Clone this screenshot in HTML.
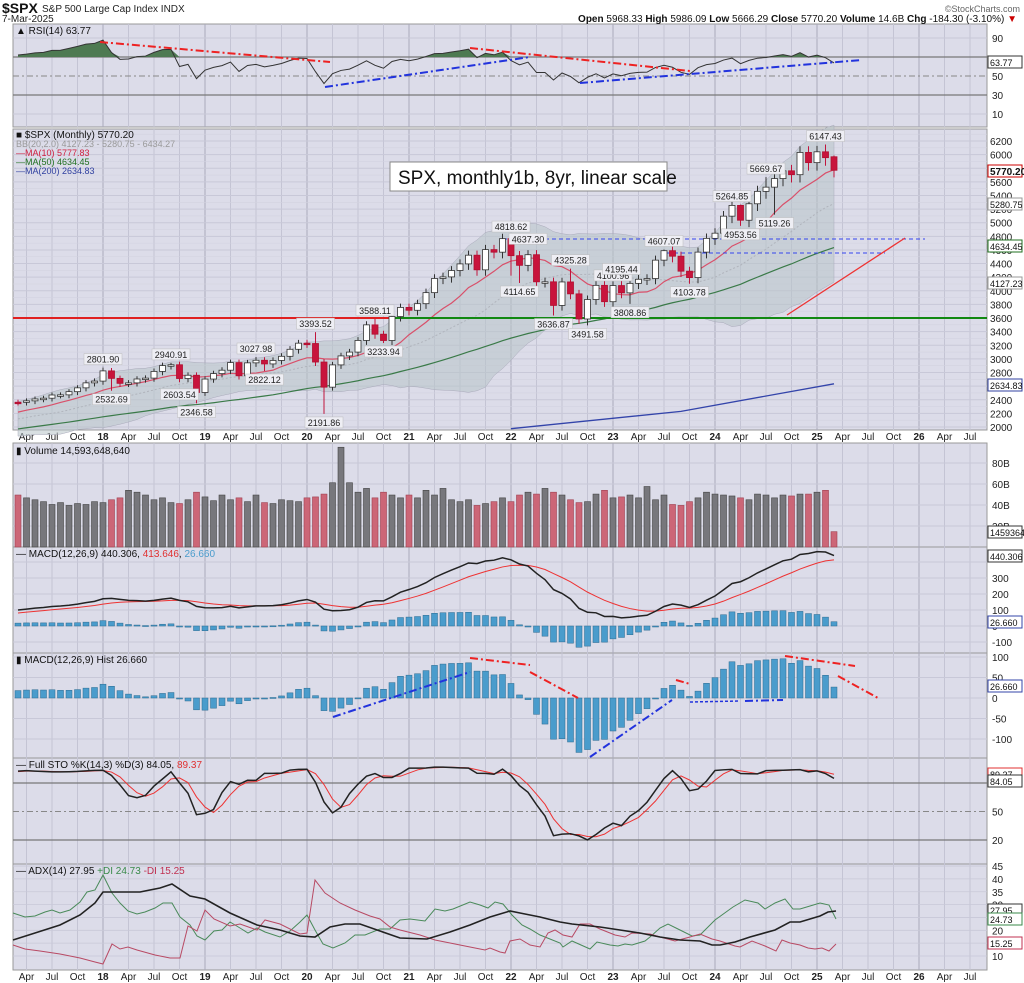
<!DOCTYPE html>
<html><head><meta charset="utf-8">
<style>
html,body{margin:0;padding:0;background:#fff;}
svg{display:block;font-family:"Liberation Sans",sans-serif;}
</style></head>
<body>
<svg id="c" width="1024" height="983" xmlns="http://www.w3.org/2000/svg"></svg>
<script>
var closes=[1312,1366,1408,1398,1310,1362,1379,1407,1441,1412,1416,1426,
1498,1515,1569,1598,1631,1606,1686,1633,1682,1757,1806,1848,
1783,1859,1872,1884,1924,1960,1931,2003,1972,2018,2068,2059,
1995,2105,2068,2086,2107,2063,2104,1972,1920,2079,2080,2044,
1940,1932,2060,2065,2097,2099,2174,2171,2168,2126,2199,2239,
2279,2364,2363,2384,2412,2423,2470,2472,2519,2575,2648,2674,
2824,2714,2641,2648,2705,2718,2816,2902,2914,2712,2760,2507,
2704,2784,2834,2946,2752,2942,2980,2926,2977,3038,3141,3231,
3226,2954,2585,2912,3044,3100,3271,3500,3363,3270,3622,3756,
3714,3811,3973,4181,4204,4298,4395,4523,4308,4605,4567,4766,
4516,4374,4530,4132,4132,3785,4130,3955,3586,3872,4080,3840,
4077,3970,4109,4169,4180,4450,4589,4508,4288,4194,4568,4770,
4846,5096,5254,5036,5278,5460,5522,5648,5762,5705,6032,5882,
6041,5955,5770];
var N=closes.length;
var O=[],H=[],L=[];
for(var i=0;i<N;i++){var o=i?closes[i-1]:closes[0];O.push(o);
H.push(Math.max(o,closes[i])*1.015);L.push(Math.min(o,closes[i])*0.98);}
function idx(y,m){return (y-2012)*12+(m-1);}
var ov=[[2018,1,2872,null],[2018,2,null,2532.69],[2018,9,2940.91,null],[2018,12,null,2346.58],[2019,7,3027.98,null],[2019,8,null,2822.12],[2020,2,3393.52,null],[2020,3,null,2191.86],[2020,9,3588.11,null],[2020,10,null,3233.94],[2022,1,4818.62,4222],[2022,2,null,4114.65],[2022,6,null,3636.87],[2022,8,4325.28,null],[2022,10,null,3491.58],[2023,2,4195.44,null],[2023,3,null,3808.86],[2023,7,4607.07,null],[2023,10,null,4103.78],[2024,4,5264.85,4953.56],[2024,7,5669.67,null],[2024,8,null,5119.26],[2025,1,6128,null],[2025,2,6147.43,5837],[2025,3,5986.09,5666.29]];
ov.forEach(function(a){var k=idx(a[0],a[1]);if(a[2])H[k]=a[2];if(a[3])L[k]=a[3];});
O[N-1]=5968.33;
var S=62;
function X(k){return 103+8.5*(k-72);}
function PY(v){return 427-(v-2000)*0.0681;}
var s='';
function add(t){s+=t;}
function line(x1,y1,x2,y2,c,w,d){add('<line x1="'+x1+'" y1="'+y1+'" x2="'+x2+'" y2="'+y2+'" stroke="'+c+'" stroke-width="'+(w||1)+'"'+(d?' stroke-dasharray="'+d+'"':'')+'/>');}
function txt(x,y,t,sz,c,anc,extra){add('<text x="'+x+'" y="'+y+'" font-size="'+(sz||9)+'" fill="'+(c||'#000')+'"'+(anc?' text-anchor="'+anc+'"':'')+(extra||'')+'>'+t+'</text>');}
function pl(pts,c,w,d){add('<polyline fill="none" points="'+pts.join(' ')+'" stroke="'+c+'" stroke-width="'+(w||1)+'"'+(d?' stroke-dasharray="'+d+'"':'')+'/>');}
function sma(a,n,k){var t=0;for(var j=k-n+1;j<=k;j++)t+=a[j];return t/n;}
function ema(a,n){var r=[a[0]],al=2/(n+1);for(var i=1;i<a.length;i++)r.push(a[i]*al+r[i-1]*(1-al));return r;}
var panels=[[24,127],[129,430],[443,547],[547,653],[653,758],[758,864],[864,970]];
panels.forEach(function(p){add('<rect x="13" y="'+p[0]+'" width="974" height="'+(p[1]-p[0])+'" fill="#dcdce9" stroke="#999" stroke-width="1"/>');});
var mnames=['','','','Apr','','','Jul','','','Oct','',''];
for(var k=63;k<=N+17;k++){var m=k%12;var x=X(k);if(x>986)break;
 if(m==0||m==3||m==6||m==9){panels.forEach(function(p){line(x,p[0],x,p[1],m==0?'#aaaabb':'#c4c4d4',1);});
 var lab=m==0?String((2012+Math.floor(k/12))%100):mnames[m];
 var bold=m==0?' font-weight="bold"':'';
 txt(x,440,lab,10,'#222','middle',bold);txt(x,980,lab,10,'#222','middle',bold);}}
for(var v=2000;v<=6200;v+=200){var y=PY(v);line(13,y,987,y,'#c8c8d8',1);txt(990,y+4,v,10,'#222');}
for(var v=2100;v<=6300;v+=200){line(13,PY(v),987,PY(v),'#d2d2e0',0.6);}
var up=[],lo=[],mid=[];
for(var k=S;k<N;k++){var m=sma(closes,20,k),sd=0;for(var j=k-19;j<=k;j++)sd+=(closes[j]-m)*(closes[j]-m);sd=Math.sqrt(sd/20);
up.push(X(k)+','+PY(m+2*sd));lo.unshift(X(k)+','+PY(m-2*sd));mid.push(X(k)+','+PY(m));}
add('<polygon points="'+up.concat(lo).join(' ')+'" fill="#b8c4c8" fill-opacity="0.55" stroke="#aab" stroke-width="0.5"/>');
pl(mid,'#b0b4bc',1,'2,2');
var ma10=[],ma50=[];
for(var k=S;k<N;k++){ma10.push(X(k)+','+PY(sma(closes,10,k)));ma50.push(X(k)+','+PY(sma(closes,50,k)));}
pl(ma50,'#3a7a48',1.2);
pl(ma10,'#d9506a',1.2);
pl([X(120)+','+PY(1975),X(140)+','+PY(2230),X(158)+','+PY(2634)],'#3344aa',1.3);
line(13,318,390,318,'#e02020',2);line(390,318,987,318,'#118811',2);
line(503,239,925,239,'#3344ee',1,'4,3');line(667,253,885,253,'#3344ee',1,'4,3');
line(787,315,905,238,'#ee3333',1.3);
for(var k=S;k<N;k++){var x=X(k),o=O[k],c=closes[k];var upc=c>=o;
 line(x,PY(H[k]),x,PY(L[k]),upc?'#333':'#c0143c',1);
 var y1=PY(Math.max(o,c)),y2=PY(Math.min(o,c));var h=Math.max(y2-y1,1.5);
 add('<rect x="'+(x-3)+'" y="'+y1+'" width="6" height="'+h+'" fill="'+(upc?'#fff':'#c8143c')+'" stroke="'+(upc?'#333':'#b01030')+'" stroke-width="0.8"/>');}
var ann=[[2018,1,2872,'2801.90',1],[2018,2,2532.69,'2532.69',0],[2018,9,2940.91,'2940.91',1],[2018,10,2603.54,'2603.54',0],[2018,12,2346.58,'2346.58',0],[2019,7,3027.98,'3027.98',1],[2019,8,2822.12,'2822.12',0],[2020,2,3393.52,'3393.52',1],[2020,3,2191.86,'2191.86',0],[2020,9,3588.11,'3588.11',1],[2020,10,3233.94,'3233.94',0],[2022,1,4818.62,'4818.62',1],[2022,3,4637.30,'4637.30',1],[2022,2,4114.65,'4114.65',0],[2022,6,3636.87,'3636.87',0],[2022,8,4325.28,'4325.28',1],[2022,10,3491.58,'3491.58',0],[2023,1,4100.96,'4100.96',1],[2023,2,4195.44,'4195.44',1],[2023,3,3808.86,'3808.86',0],[2023,7,4607.07,'4607.07',1],[2023,10,4103.78,'4103.78',0],[2024,3,5264.85,'5264.85',1],[2024,4,4953.56,'4953.56',0],[2024,7,5669.67,'5669.67',1],[2024,8,5119.26,'5119.26',0],[2025,2,6147.43,'6147.43',1]];
ann.forEach(function(a){var x=X(idx(a[0],a[1])),y=PY(a[2]);var yy=a[4]?y-14:y+3;
 add('<rect x="'+(x-19)+'" y="'+yy+'" width="38" height="11" fill="#eeeef4" stroke="#bbb" stroke-width="0.5"/>');txt(x,yy+9,a[3],9,'#222','middle');});
add('<rect x="390" y="162" width="277" height="29" fill="#fff" stroke="#888"/>');txt(398,184,'SPX, monthly1b, 8yr, linear scale',19,'#111');
txt(16,138,'&#9632; $SPX (Monthly) 5770.20',10,'#111');
txt(16,147,'BB(20,2.0) 4127.23 - 5280.75 - 6434.27',9,'#999');
txt(16,156,'&#8212;MA(10) 5777.83',9,'#d02040');
txt(16,165,'&#8212;MA(50) 4634.45',9,'#207020');
txt(16,174,'&#8212;MA(200) 2634.83',9,'#3040a0');
function tag(y,t,c,b){add('<rect x="988" y="'+(y-6)+'" width="34" height="12" fill="#fff" stroke="'+c+'" stroke-width="1"/>');txt(990,y+4,t,b?10:9,'#111',null,b?' font-weight="bold"':'');}
tag(171,'5770.20','#c00',1);tag(204,'5280.75','#999');tag(246,'4634.45','#207020');tag(283,'4127.23','#999');tag(385,'2634.83','#3040a0');
function RY(v){return 57+(70-v)*0.95;}
[[90,0],[70,1],[50,2],[30,1],[10,0]].forEach(function(a){var y=RY(a[0]);line(13,y,987,y,a[1]==1?'#777':(a[1]==2?'#888':'#c8c8d8'),a[1]==1?1.2:1,a[1]==2?'6,3,2,3':null);if(a[0]!=70)txt(992,y+4,a[0],10,'#222');});
var ag=0,al=0,rsi=[];for(var i=1;i<N;i++){var d=closes[i]-closes[i-1];var g=Math.max(d,0),l=Math.max(-d,0);if(i<=14){ag+=g/14;al+=l/14;}else{ag=(ag*13+g)/14;al=(al*13+l)/14;}rsi[i]=100-100/(1+ag/(al||1e-9));}
var rp=[];for(var k=S;k<N;k++)rp.push([X(k),RY(rsi[k])]);
var y70=RY(70);var pts=[X(S)+','+y70];rp.forEach(function(p){pts.push(p[0]+','+Math.min(p[1],y70));});pts.push(X(N-1)+','+y70);
add('<polygon points="'+pts.join(' ')+'" fill="#4e7a52"/>');
pl(rp.map(function(p){return p[0]+','+p[1];}),'#333',1);
line(100,42,330,62,'#ee2222',2,'8,3,2,3');line(325,87,530,57,'#2233dd',2,'8,3,2,3');line(470,48,690,71,'#ee2222',2,'8,3,2,3');line(580,83,862,60,'#2233dd',2,'8,3,2,3');
txt(16,34,'&#9650; RSI(14) 63.77',10,'#111');tag(62,'63.77','#333');
var vols=[55,52,50,48,45,47,44,46,45,48,47,50,52,60,58,55,50,52,47,46,50,58,53,49,55,50,52,48,55,47,46,50,49,48,52,53,56,68,95,68,58,62,52,58,55,52,55,52,60,55,62,50,48,50,44,46,48,52,48,55,58,56,62,58,55,50,47,48,56,60,52,53,55,52,64,50,55,45,44,48,52,58,56,55,54,52,50,56,55,52,55,54,56,56,58,60,14.6];
for(var v=20;v<=80;v+=20){var y=547-v*1.05;line(13,y,987,y,'#c8c8d8',1);txt(992,y+4,v+'B',10,'#222');}
for(var k=S;k<N;k++){var vv=vols[k-S]||50;if(vv<90&&vv>20)vv*=0.9;var dn=closes[k]<O[k];var y=547-vv*1.05;
 add('<rect x="'+(X(k)-3)+'" y="'+y+'" width="6" height="'+(547-y)+'" fill="'+(dn?'#cc6677':'#77777c')+'" stroke="'+(dn?'#a04050':'#444')+'" stroke-width="0.6"/>');}
txt(16,454,'&#9646; Volume 14,593,648,640',10,'#111');tag(532,'1459364','#333');
var e12=ema(closes,12),e26=ema(closes,26),macd=[];for(var i=0;i<N;i++)macd.push(e12[i]-e26[i]);var sig=ema(macd,9),hist=[];for(var i=0;i<N;i++)hist.push(macd[i]-sig[i]);
function MY(v){return 626-v*0.16;}
[400,300,200,100,0,-100].forEach(function(v){line(13,MY(v),987,MY(v),'#c8c8d8',1);if(v<400)txt(992,MY(v)+4,v,10,'#222');});
for(var k=S;k<N;k++){var y=MY(hist[k]);add('<rect x="'+(X(k)-3)+'" y="'+Math.min(y,626)+'" width="6" height="'+Math.max(Math.abs(626-y),1)+'" fill="#4a9ccc" stroke="#2a6a90" stroke-width="0.5"/>');}
var mp=[],sp=[];for(var k=S;k<N;k++){mp.push(X(k)+','+MY(macd[k]));sp.push(X(k)+','+MY(sig[k]));}
pl(sp,'#ee3333',1);pl(mp,'#222',1.5);
txt(16,557,'&#8212; MACD(12,26,9) 440.306, <tspan fill="#e03030">413.646</tspan>, <tspan fill="#4a9ccc">26.660</tspan>',10,'#111');
tag(556,'440.306','#333');tag(622,'26.660','#3344aa');
function HY(v){return 698-v*0.41;}
[100,50,0,-50,-100].forEach(function(v){line(13,HY(v),987,HY(v),'#c8c8d8',1);txt(992,HY(v)+4,v,10,'#222');});
for(var k=S;k<N;k++){var y=HY(hist[k]);add('<rect x="'+(X(k)-3)+'" y="'+Math.min(y,698)+'" width="6" height="'+Math.max(Math.abs(698-y),1)+'" fill="#4a9ccc" stroke="#2a6a90" stroke-width="0.5"/>');}
line(333,717,470,672,'#2233dd',2,'8,3,2,3');line(470,658,530,665,'#ee2222',2,'8,3,2,3');line(530,672,578,698,'#ee2222',2,'8,3,2,3');line(590,757,672,700,'#2233dd',2,'8,3,2,3');line(676,680,690,684,'#ee2222',2,'8,3,2,3');line(690,702,740,701,'#2233dd',1.5,'3,2');line(745,701,783,700,'#2233dd',2,'8,3,2,3');line(785,656,855,666,'#ee2222',2,'8,3,2,3');line(838,676,878,698,'#ee2222',2,'8,3,2,3');
txt(16,663,'&#9646; MACD(12,26,9) Hist 26.660',10,'#111');tag(686,'26.660','#3344aa');
function SY(v){return 859-v*0.95;}
var raw=[];for(var i=0;i<N;i++){if(i<13){raw.push(50);continue;}var hh=-1e9,ll=1e9;for(var j=i-13;j<=i;j++){hh=Math.max(hh,H[j]);ll=Math.min(ll,L[j]);}raw.push((closes[i]-ll)/(hh-ll)*100);}
var K=[],D=[];for(var i=0;i<N;i++)K.push(i<2?raw[i]:sma(raw,3,i));for(var i=0;i<N;i++)D.push(i<2?K[i]:sma(K,3,i));
line(13,SY(80),987,SY(80),'#777',1.2);line(13,SY(50),987,SY(50),'#888',1,'6,3,2,3');line(13,SY(20),987,SY(20),'#777',1.2);
txt(992,SY(50)+4,'50',10,'#222');txt(992,SY(20)+4,'20',10,'#222');
var kp=[],dp=[];for(var k=S;k<N;k++){kp.push(X(k)+','+SY(K[k]));dp.push(X(k)+','+SY(D[k]));}
pl(dp,'#ee3333',1);pl(kp,'#222',1.5);
txt(16,768,'&#8212; Full STO %K(14,3) %D(3) 84.05, <tspan fill="#e03030">89.37</tspan>',10,'#111');
tag(774,'89.37','#e03030');tag(781,'84.05','#333');
// ADX manual
function AY(v){return 956-(v-10)*2.57;}
[45,40,35,30,25,20,15,10].forEach(function(v){line(13,AY(v),987,AY(v),'#c8c8d8',0.8);if(v%10==0||v==45||v==35)txt(992,AY(v)+4,v,10,'#222');});
var adxP=[[13,940],[35,933],[60,925],[80,915],[95,903],[103,892],[140,892],[160,888],[172,884],[190,896],[205,899],[230,913],[257,925],[280,930],[300,936],[315,937],[330,927],[345,924],[360,924],[380,931],[400,938],[427,939],[450,932],[470,925],[490,917],[510,911],[520,913],[540,917],[560,922],[572,924],[600,927],[620,930],[640,933],[660,937],[680,940],[700,941],[712,945],[720,945],[735,942],[750,937],[775,930],[790,922],[800,922],[820,916],[828,912],[836,911]];
var pdiP=[[13,913],[25,917],[35,916],[45,912],[52,910],[60,913],[70,910],[80,902],[87,892],[95,890],[103,875],[112,893],[120,903],[128,911],[137,914],[145,912],[155,908],[163,903],[172,903],[180,917],[190,925],[197,936],[205,940],[214,931],[222,930],[230,922],[240,928],[248,933],[257,928],[265,932],[280,937],[290,931],[300,922],[307,915],[315,930],[323,944],[333,948],[345,943],[355,935],[365,935],[380,929],[390,929],[400,920],[410,919],[425,921],[435,909],[445,911],[453,909],[470,902],[480,905],[488,908],[495,902],[503,904],[512,915],[522,925],[530,929],[540,935],[560,943],[563,947],[572,941],[590,949],[597,942],[610,945],[618,946],[625,944],[632,945],[645,941],[650,937],[660,928],[668,924],[680,930],[692,936],[700,935],[715,920],[733,907],[745,900],[758,903],[765,909],[775,903],[785,899],[793,909],[800,909],[810,906],[820,903],[829,905],[836,919]];
var mdiP=[[13,945],[25,949],[40,951],[60,954],[80,958],[95,962],[103,964],[112,944],[120,949],[128,947],[137,950],[155,955],[170,958],[180,958],[188,926],[197,931],[205,910],[214,919],[230,926],[240,924],[257,930],[265,920],[280,924],[300,934],[307,933],[315,880],[325,893],[340,903],[355,910],[370,916],[380,919],[390,927],[400,930],[420,935],[435,940],[450,943],[470,947],[485,950],[490,948],[500,952],[505,953],[510,941],[520,939],[530,945],[540,947],[548,933],[555,930],[563,935],[572,937],[580,924],[590,924],[600,929],[615,935],[625,937],[632,933],[650,934],[660,937],[675,941],[690,937],[700,934],[712,939],[720,941],[735,946],[740,947],[752,941],[765,946],[776,951],[782,940],[790,943],[800,945],[808,948],[815,949],[822,948],[829,951],[836,944]];
function jp(a){return a.map(function(p){return p[0]+','+p[1];});}
pl(jp(pdiP),'#4a8a5a',1);pl(jp(mdiP),'#b84a64',1);pl(jp(adxP),'#222',1.6);
txt(16,874,'&#8212; ADX(14) 27.95 <tspan fill="#3a8a4a">+DI 24.73</tspan> <tspan fill="#c03050">-DI 15.25</tspan>',10,'#111');
tag(910,'27.95','#333');tag(919,'24.73','#3a8a4a');tag(943,'15.25','#c03050');
txt(2,13,'$SPX',14,'#111',null,' font-weight="bold"');txt(42,12,'S&amp;P 500 Large Cap Index  INDX',10,'#222');
txt(2,22,'7-Mar-2025',10,'#222');
txt(1020,12,'&#169;StockCharts.com',9,'#666','end');
txt(1017,22,'<tspan font-weight="bold">Open</tspan> 5968.33 <tspan font-weight="bold">High</tspan> 5986.09 <tspan font-weight="bold">Low</tspan> 5666.29 <tspan font-weight="bold">Close</tspan> 5770.20 <tspan font-weight="bold">Volume</tspan> 14.6B <tspan font-weight="bold">Chg</tspan> -184.30 (-3.10%) <tspan fill="#c00">&#9660;</tspan>',10,'#111','end');
document.getElementById('c').innerHTML=s;
</script>
</body></html>
